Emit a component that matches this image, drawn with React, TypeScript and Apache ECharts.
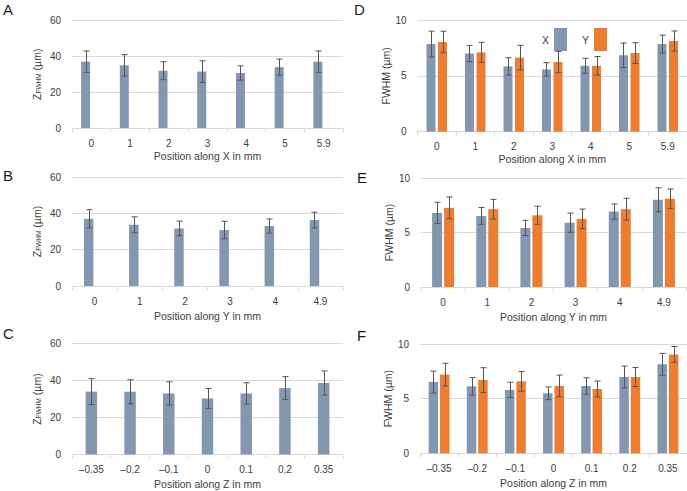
import React, { useEffect, useRef } from "react";
import * as echarts from "echarts";

// ---------- data ----------
const catsX = ["0", "1", "2", "3", "4", "5", "5.9"];
const catsY = ["0", "1", "2", "3", "4", "4.9"];
const catsZ = ["–0.35", "–0.2", "–0.1", "0", "0.1", "0.2", "0.35"];

const zA = [37, 35, 32, 31.5, 30.7, 34, 37];
const zAErr = [6, 6, 5, 6, 4, 4.5, 6];
const zB = [37, 33.7, 31.7, 30.8, 33, 36.3];
const zBErr = [5, 4.4, 4, 4.8, 3.9, 4.3];
const zC = [34, 33.9, 33, 30.3, 33, 35.9, 38.7];
const zCErr = [7, 6.5, 6.3, 5.4, 5.8, 6.2, 6.5];

const dX = [7.85, 7.0, 5.85, 5.58, 5.9, 6.84, 7.85];
const dXErr = [1.15, 0.73, 0.77, 0.6, 0.67, 1.1, 0.8];
const dY = [8.03, 7.1, 6.63, 6.24, 5.9, 7.04, 8.12];
const dYErr = [0.96, 0.9, 1.1, 0.95, 0.83, 0.93, 0.9];

const eX = [6.8, 6.52, 5.42, 5.9, 6.92, 8.0];
const eXErr = [0.97, 0.77, 0.7, 0.88, 0.7, 1.1];
const eY = [7.26, 7.14, 6.58, 6.25, 7.14, 8.09];
const eYErr = [1.0, 0.9, 0.83, 0.9, 1.0, 0.9];

const fX = [6.52, 6.13, 5.8, 5.49, 6.16, 6.98, 8.14];
const fXErr = [1.0, 0.8, 0.7, 0.58, 0.75, 1.0, 1.0];
const fY = [7.2, 6.7, 6.58, 6.16, 5.88, 6.98, 9.05];
const fYErr = [1.04, 1.13, 0.9, 1.0, 0.73, 0.87, 0.72];

const leftTicks = { max: 60, interval: 20 };
const rightTicks = { max: 10, interval: 5 };

// ---------- styles ----------
const FONT = "'Liberation Sans', Arial, Helvetica, sans-serif";
const BLUE = "#8497b0";
const ORANGE = "#ed7d31";
const TEXT = "#404040";
const GRID_LINE = "#d9d9d9";
const ERR = "#555555";

type Panel = {
  letter: string;
  letterPos: [number, number];
  grid: { left: number; top: number; width: number; height: number };
  cats: string[];
  xName: string;
  nameGapX: number;
  kind: "left" | "right";
  mode: "firstOfPair" | "single" | "pair";
  barWidth: number;
  gapRatio: number;
  values: number[][];
  errors: number[][];
};

const panels: Panel[] = [
  {
    letter: "A", letterPos: [3, 2],
    grid: { left: 72, top: 20.5, width: 271, height: 107.5 },
    cats: catsX, xName: "Position along X in mm", nameGapX: 22,
    kind: "left", mode: "firstOfPair", barWidth: 9, gapRatio: 0.28,
    values: [zA], errors: [zAErr],
  },
  {
    letter: "B", letterPos: [3, 168],
    grid: { left: 72, top: 177, width: 271, height: 109 },
    cats: catsY, xName: "Position along Y in mm", nameGapX: 24,
    kind: "left", mode: "firstOfPair", barWidth: 9.5, gapRatio: 0.25,
    values: [zB], errors: [zBErr],
  },
  {
    letter: "C", letterPos: [3, 326],
    grid: { left: 72, top: 343.5, width: 271, height: 111 },
    cats: catsZ, xName: "Position along Z in mm", nameGapX: 24,
    kind: "left", mode: "single", barWidth: 11.5, gapRatio: 0,
    values: [zC], errors: [zCErr],
  },
  {
    letter: "D", letterPos: [354, 2],
    grid: { left: 417.5, top: 20, width: 270, height: 111.7 },
    cats: catsX, xName: "Position along X in mm", nameGapX: 22,
    kind: "right", mode: "pair", barWidth: 9, gapRatio: 0.28,
    values: [dX, dY], errors: [dXErr, dYErr],
  },
  {
    letter: "E", letterPos: [357, 170],
    grid: { left: 421, top: 178, width: 265, height: 109 },
    cats: catsY, xName: "Position along Y in mm", nameGapX: 24,
    kind: "right", mode: "pair", barWidth: 10, gapRatio: 0.2,
    values: [eX, eY], errors: [eXErr, eYErr],
  },
  {
    letter: "F", letterPos: [357, 328],
    grid: { left: 420, top: 344, width: 268, height: 109.3 },
    cats: catsZ, xName: "Position along Z in mm", nameGapX: 24,
    kind: "right", mode: "pair", barWidth: 9.5, gapRatio: 0.2,
    values: [fX, fY], errors: [fXErr, fYErr],
  },
];

function buildOption() {
  const grid: any[] = [];
  const xAxis: any[] = [];
  const yAxis: any[] = [];
  const series: any[] = [];
  const graphic: any[] = [];

  panels.forEach((p, gi) => {
    grid.push({ ...p.grid, containLabel: false });
    xAxis.push({
      type: "category",
      gridIndex: gi,
      data: p.cats,
      boundaryGap: true,
      axisLine: { show: true, lineStyle: { color: GRID_LINE, width: 1 } },
      axisTick: { show: true, alignWithLabel: false, length: 4, lineStyle: { color: GRID_LINE } },
      axisLabel: { color: TEXT, fontSize: 10, fontFamily: FONT, margin: 10, interval: 0 },
      name: p.xName,
      nameLocation: "middle",
      nameGap: p.nameGapX,
      nameTextStyle: { color: TEXT, fontSize: 10.5, fontFamily: FONT },
    });
    const ticks = p.kind === "left" ? leftTicks : rightTicks;
    yAxis.push({
      type: "value",
      gridIndex: gi,
      min: 0,
      max: ticks.max,
      interval: ticks.interval,
      axisLine: { show: false },
      axisTick: { show: false },
      splitLine: { show: true, lineStyle: { color: GRID_LINE, width: 1 } },
      axisLabel: { color: TEXT, fontSize: 10, fontFamily: FONT, margin: 11 },
      name: p.kind === "left" ? "{z|Z}{s|FWHM}{n| (µm)}" : "FWHM (µm)",
      nameLocation: "middle",
      nameGap: p.kind === "left" ? 30 : 25,
      nameRotate: 90,
      nameTextStyle: {
        color: TEXT,
        fontSize: 10.5,
        fontFamily: FONT,
        rich: {
          z: { fontSize: 10.5, fontFamily: FONT, color: TEXT, verticalAlign: "bottom" },
          s: { fontSize: 6.5, fontFamily: FONT, color: TEXT, verticalAlign: "bottom" },
          n: { fontSize: 10.5, fontFamily: FONT, color: TEXT, verticalAlign: "bottom" },
        },
      },
    });

    const bw = p.barWidth;
    const gapPct = Math.round(p.gapRatio * 100) + "%";
    const half = (bw * (1 + p.gapRatio)) / 2;

    const names = p.kind === "left" ? ["Z"] : ["X", "Y"];
    const colors = [BLUE, ORANGE];

    p.values.forEach((vals, si) => {
      series.push({
        type: "bar",
        name: names[si],
        xAxisIndex: gi,
        yAxisIndex: gi,
        data: vals,
        barWidth: bw,
        barGap: gapPct,
        itemStyle: { color: colors[si] },
        emphasis: { disabled: true },
        z: 2,
      });
    });
    if (p.mode === "firstOfPair") {
      series.push({
        type: "bar",
        name: "_empty",
        xAxisIndex: gi,
        yAxisIndex: gi,
        data: p.cats.map(() => null),
        barWidth: bw,
        barGap: gapPct,
        itemStyle: { color: ORANGE },
        silent: true,
      });
    }

    p.values.forEach((vals, si) => {
      let offset = 0;
      if (p.mode === "pair") offset = si === 0 ? -half : half;
      else if (p.mode === "firstOfPair") offset = -half;
      const errs = p.errors[si];
      series.push({
        type: "custom",
        name: names[si] + "_err",
        xAxisIndex: gi,
        yAxisIndex: gi,
        z: 5,
        silent: true,
        data: vals.map((v, i) => [i, v, errs[i]]),
        encode: { x: 0, y: 1 },
        renderItem: (params: any, api: any) => {
          const i = api.value(0);
          const v = api.value(1);
          const e = api.value(2);
          const top = api.coord([i, v + e]);
          const bot = api.coord([i, v - e]);
          const x = Math.round(top[0] + offset) + 0.5;
          const style = { stroke: ERR, lineWidth: 1, fill: null };
          return {
            type: "group",
            children: [
              { type: "line", shape: { x1: x, y1: top[1], x2: x, y2: bot[1] }, style },
              { type: "line", shape: { x1: x - 3, y1: top[1], x2: x + 3, y2: top[1] }, style },
              { type: "line", shape: { x1: x - 3, y1: bot[1], x2: x + 3, y2: bot[1] }, style },
            ],
          };
        },
      });
    });

    graphic.push({
      type: "text",
      left: p.letterPos[0],
      top: p.letterPos[1],
      style: { text: p.letter, fontSize: 15, fontFamily: FONT, fill: "#1a1a1a" },
    });
  });

  return {
    animation: false,
    backgroundColor: "#ffffff",
    textStyle: { fontFamily: FONT },
    grid,
    xAxis,
    yAxis,
    series,
    graphic,
    legend: {
      data: ["X", "Y"],
      left: 537,
      top: 23,
      icon: "rect",
      itemWidth: 13,
      itemHeight: 23,
      itemGap: 15,
      align: "right",
      selectedMode: false,
      textStyle: { color: TEXT, fontSize: 10.5, fontFamily: FONT },
    },
  };
}

export default function App() {
  const ref = useRef<HTMLDivElement>(null);
  useEffect(() => {
    document.body.style.margin = "0";
    if (!ref.current) return;
    const chart = echarts.init(ref.current, undefined, { renderer: "svg" });
    chart.setOption(buildOption() as any);
    return () => chart.dispose();
  }, []);
  return <div ref={ref} style={{ width: 687, height: 491 }} />;
}
